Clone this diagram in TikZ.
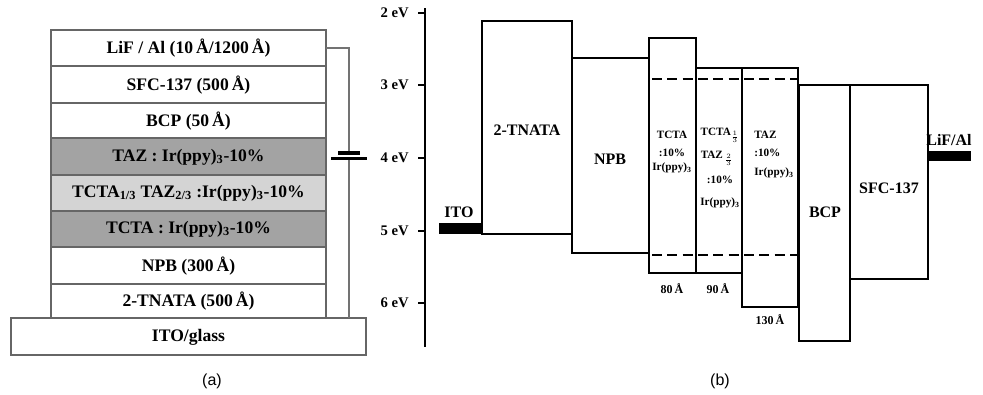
\documentclass[tikz,border=0pt]{standalone}
\usepackage{fontspec}
\setmainfont{Liberation Serif}
\newfontfamily\capfont{Liberation Sans}
\begin{document}
\begin{tikzpicture}[x=0.75pt,y=-0.75pt,
  layer/.style={draw=black!60, line width=1.1pt},
  dark/.style={layer, fill=black!36},
  light/.style={layer, fill=black!17},
  ltext/.style={font=\fontsize{13.2}{15}\selectfont\bfseries, inner sep=0pt},
  band/.style={draw=black, line width=2pt},
  btext/.style={font=\fontsize{12}{14}\selectfont\bfseries, inner sep=0pt},
  stext/.style={font=\fontsize{8.4}{10}\selectfont\bfseries, inner sep=0pt},
  atext/.style={font=\fontsize{11}{13}\selectfont\bfseries, inner sep=0pt, anchor=east},
  wire/.style={draw=black!55, line width=1pt},
  plate/.style={draw=black, line width=2.3pt},
  captext/.style={font=\capfont\fontsize{12}{14}\selectfont, inner sep=0pt}]
\useasboundingbox (0,0) rectangle (983,394);
% ---------- (a) layer stack ----------
\draw[layer] (51,30) rectangle (326,66);
\draw[layer] (51,66) rectangle (326,103);
\draw[layer] (51,103) rectangle (326,138);
\draw[dark] (51,138) rectangle (326,175);
\draw[light] (51,175) rectangle (326,211);
\draw[dark] (51,211) rectangle (326,247);
\draw[layer] (51,247) rectangle (326,284);
\draw[layer] (51,284) rectangle (326,318);
\draw[layer] (11,318) rectangle (366,355);
\node[ltext] (lif) at (188.5,48) {LiF / Al (10\,Å/1200\,Å)};
\node[ltext] (sfc) at (188.5,85) {SFC-137 (500\,Å)};
\node[ltext] (bcp) at (188.5,121) {BCP (50\,Å)};
\node[ltext] (taz) at (188.5,157) {TAZ : Ir(ppy)\textsubscript{3}-10\%};
\node[ltext] (mix) at (188.5,193) {TCTA\textsubscript{1/3} TAZ\textsubscript{2/3} :Ir(ppy)\textsubscript{3}-10\%};
\node[ltext] (tcta) at (188.5,229) {TCTA : Ir(ppy)\textsubscript{3}-10\%};
\node[ltext] (npb) at (188.5,266) {NPB (300\,Å)};
\node[ltext] (tnata) at (188.5,301) {2-TNATA (500\,Å)};
\node[ltext] (ito) at (188.5,337) {ITO/glass};
% wire and battery
\coordinate (w0) at (326,48);
\coordinate (w1) at (349,48);
\coordinate (w2) at (349,153);
\coordinate (w3) at (349,158);
\coordinate (w4) at (349,318);
\draw[wire] (w0) -- (w1) -- (w2);
\draw[wire] (w3) -- (w4);
\draw[plate] (338,153) -- (360,153);
\draw[plate] (331,158.5) -- (367,158.5);
\node[captext] (capa) at (212,381) {(a)};
% ---------- (b) energy diagram ----------
\draw[line width=1.6pt] (425,8) -- (425,347);
\foreach \yy/\lab in {13/2,85/3,158/4,231/5,303/6}{
  \draw[line width=1.6pt] (418,\yy) -- (425,\yy);
  \node[atext] at (409,\yy) {\lab\ eV};
}
\draw[band] (482,21) rectangle (572,234);
\draw[band] (572,58) rectangle (649,253);
\draw[band] (649,38) rectangle (696,273);
\draw[band] (696,68) rectangle (742,273);
\draw[band] (742,68) rectangle (798,307);
\draw[band] (799,85) rectangle (850,341);
\draw[band] (850,85) rectangle (928,279);
\draw[fill=black] (439,223) rectangle (482,233);
\draw[fill=black] (928,151) rectangle (970,160);
\draw[line width=2.1pt, dash pattern=on 7.5pt off 4pt] (652,79) -- (797,79);
\draw[line width=2.1pt, dash pattern=on 7.5pt off 4pt] (652,255) -- (797,255);
\node[btext] (ito2) at (459,212) {ITO};
\node[btext] (lif2) at (949,140) {LiF/Al};
\node[btext] (tnata2) at (527,130) {2-TNATA};
\node[btext] (npb2) at (610,159) {NPB};
\node[btext] (bcp2) at (825,212) {BCP};
\node[btext] (sfc2) at (889,188) {SFC-137};
\node[stext] (t1) at (672,135) {TCTA};
\node[stext] (t2) at (672,153) {:10\%};
\node[stext] (t3) at (672,168) {Ir(ppy)\textsubscript{3}};
\node[stext] (m1) at (720,135) {TCTA$_{\frac{1}{3}}$};
\node[stext] (m2) at (717,158) {TAZ\,$_{\frac{2}{3}}$};
\node[stext] (m3) at (720,180) {:10\%};
\node[stext] (m4) at (720,203) {Ir(ppy)\textsubscript{3}};
\node[stext, anchor=west] (z1) at (754,135) {TAZ};
\node[stext, anchor=west] (z2) at (754,153) {:10\%};
\node[stext, anchor=west] (z3) at (754,173) {Ir(ppy)\textsubscript{3}};
\node[stext, font=\fontsize{9}{10}\selectfont\bfseries] (d1) at (672,289) {80\,Å};
\node[stext, font=\fontsize{9}{10}\selectfont\bfseries] (d2) at (718,289) {90\,Å};
\node[stext, font=\fontsize{9}{10}\selectfont\bfseries] (d3) at (770,320) {130\,Å};
\node[captext] (capb) at (720,381) {(b)};
\end{tikzpicture}
\end{document}
